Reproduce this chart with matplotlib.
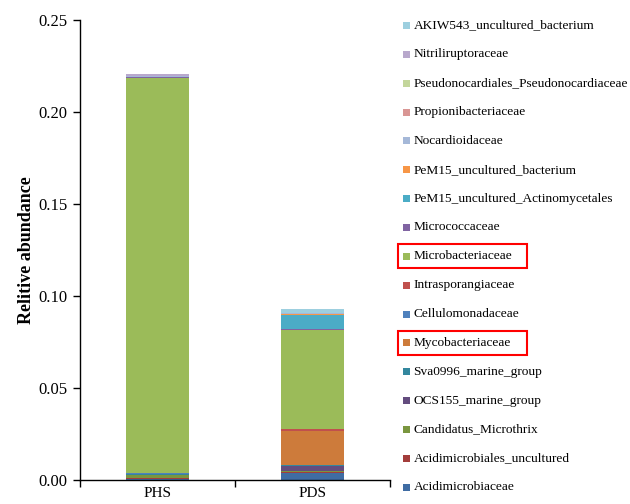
import matplotlib
matplotlib.use('Agg')
import matplotlib.pyplot as plt
from matplotlib.patches import Rectangle

plt.rcParams['font.family'] = ['Liberation Serif', 'DejaVu Serif']

samples = ['PHS', 'PDS']

# stacking order, bottom first
taxa = ['Acidimicrobiaceae', 'Acidimicrobiales_uncultured', 'Candidatus_Microthrix',
        'OCS155_marine_group', 'Sva0996_marine_group', 'Mycobacteriaceae',
        'Cellulomonadaceae', 'Intrasporangiaceae', 'Microbacteriaceae',
        'Micrococcaceae', 'PeM15_uncultured_Actinomycetales', 'PeM15_uncultured_bacterium',
        'Nocardioidaceae', 'Propionibacteriaceae', 'Pseudonocardiales_Pseudonocardiaceae',
        'Nitriliruptoraceae', 'AKIW543_uncultured_bacterium']

colors = ['#3F6CA3', '#A33D3B', '#7A963F', '#634C7E', '#33879E', '#CD7B3B',
          '#4F81BD', '#C0504D', '#9BBB59', '#8064A2', '#4BACC6', '#F79646',
          '#A5B8D8', '#D99694', '#C3D69B', '#B8A8CC', '#9DCFDF']

phs = [0.0008, 0.0003, 0.0015, 0.0003, 0.0002, 0.0002, 0.0005, 0.0001, 0.2147,
       0.0005, 0.0, 0.0, 0.0002, 0.0001, 0.0001, 0.0012, 0.0002]
pds = [0.0040, 0.0002, 0.0009, 0.0024, 0.0005, 0.0187, 0.0002, 0.0008, 0.0540,
       0.0002, 0.0080, 0.0004, 0.0002, 0.0001, 0.0001, 0.0002, 0.0020]

W, H = 630, 504
fig = plt.figure(figsize=(6.3, 5.04), dpi=100)
ax = fig.add_axes([80 / W, 1 - 480 / H, 310 / W, 460 / H])

x = range(len(samples))
bottom = [0.0, 0.0]
for i in range(len(taxa)):
    vals = [phs[i], pds[i]]
    ax.bar(x, vals, width=0.41, bottom=bottom, color=colors[i], linewidth=0)
    bottom = [bottom[0] + vals[0], bottom[1] + vals[1]]

ax.set_xlim(-0.5, 1.5)
ax.set_ylim(0, 0.25)
ax.set_yticks([0, 0.05, 0.10, 0.15, 0.20, 0.25])
ax.set_yticklabels(['0.00', '0.05', '0.10', '0.15', '0.20', '0.25'], fontsize=12)
ax.set_xticks([0, 1])
ax.set_xticklabels(samples, fontsize=11)
ax.tick_params(axis='x', length=0, pad=5)
ax.set_xticks([-0.5, 0.5, 1.5], minor=True)
ax.tick_params(axis='x', which='minor', length=5, direction='out', width=1)
ax.tick_params(axis='y', length=5, direction='out', width=1, pad=4)
ax.spines['top'].set_visible(False)
ax.spines['right'].set_visible(False)
ax.spines['left'].set_linewidth(1)
ax.spines['bottom'].set_linewidth(1)
ax.set_ylabel('Relitive abundance', fontsize=13, fontweight='bold', labelpad=2)

# legend, top entry is the last stacked taxon
step = 28.85
for k, i in enumerate(reversed(range(len(taxa)))):
    yc = 25.5 + k * step
    fig.add_artist(Rectangle((403 / W, 1 - (yc + 3.5) / H), 7 / W, 7 / H,
                             transform=fig.transFigure, color=colors[i], linewidth=0))
    fig.text(413.5 / W, 1 - yc / H, taxa[i], fontsize=9.6, va='center', ha='left')

for name in ['Microbacteriaceae', 'Mycobacteriaceae']:
    k = len(taxa) - 1 - taxa.index(name)
    yc = 25.5 + k * step
    fig.add_artist(Rectangle((398 / W, 1 - (yc + 12) / H), 129 / W, 24 / H,
                             transform=fig.transFigure, fill=False,
                             edgecolor='#FF0000', linewidth=1.5))

fig.savefig('out.png', dpi=100)
